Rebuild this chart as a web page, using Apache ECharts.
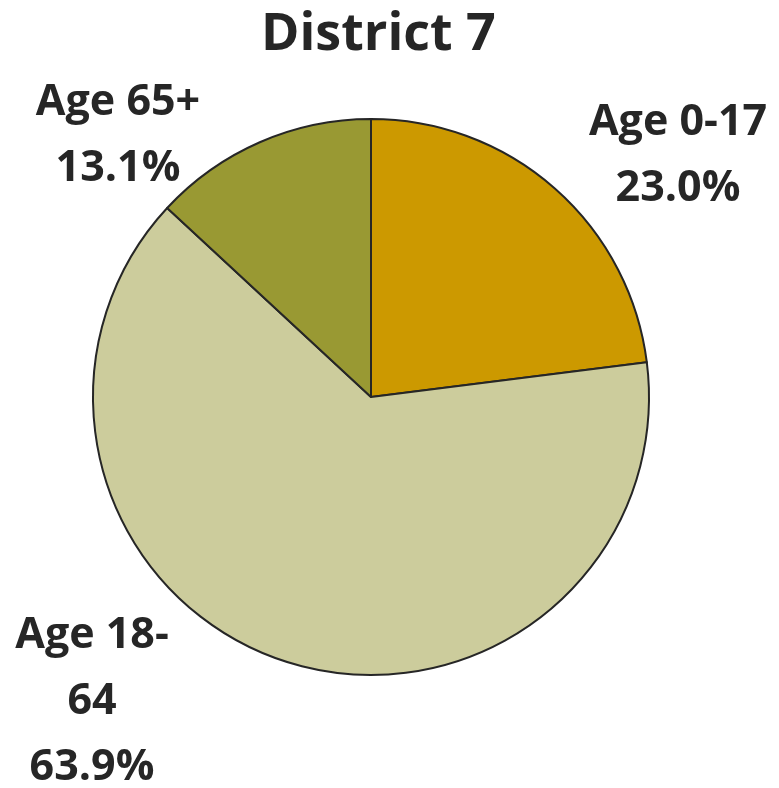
<!DOCTYPE html>
<html>
<head>
<meta charset="utf-8">
<script src="https://cdn.jsdelivr.net/npm/echarts@6/dist/echarts.min.js"></script>
<style>
  html, body { margin: 0; padding: 0; background: #fff; }
  #main { width: 779px; height: 788px; }
</style>
</head>
<body>
<div id="main"></div>
<script>
var categories = ['Age 0-17', 'Age 18-64', 'Age 65+'];
var shares = [23.0, 63.9, 13.1];
var sliceColors = ['#CC9900', '#CCCC9C', '#999933'];

// where each label sits (text centre)
var labelSpots = [[678, 156], [92, 702], [118, 136]];

var chart = echarts.init(document.getElementById('main'));

var option = {
  backgroundColor: '#ffffff',
  animation: false,
  title: {
    text: 'District 7',
    left: 256,
    top: 4,
    textStyle: {
      fontFamily: 'Open Sans',
      fontWeight: 'bold',
      fontSize: 52,
      color: '#262626'
    }
  },
  series: [{
    type: 'pie',
    center: [371, 397],
    radius: 278,
    startAngle: 90,
    clockwise: true,
    data: categories.map(function (c, i) {
      return { name: c, value: shares[i], itemStyle: { color: sliceColors[i] } };
    }),
    itemStyle: { borderColor: '#262626', borderWidth: 2 },
    label: {
      show: true,
      position: 'outside',
      overflow: 'none',
      fontFamily: 'Open Sans',
      fontWeight: 'bold',
      fontSize: 43,
      lineHeight: 66,
      color: '#262626',
      align: 'center',
      formatter: function (p) {
        var n = p.name.replace('18-64', '18-\n64');
        return n + '\n' + p.value.toFixed(1) + '%';
      }
    },
    labelLine: { show: false },
    labelLayout: function (params) {
      var s = labelSpots[params.dataIndex];
      return { x: s[0], y: s[1], align: 'center', verticalAlign: 'middle' };
    }
  }]
};

chart.setOption(option);
</script>
</body>
</html>
